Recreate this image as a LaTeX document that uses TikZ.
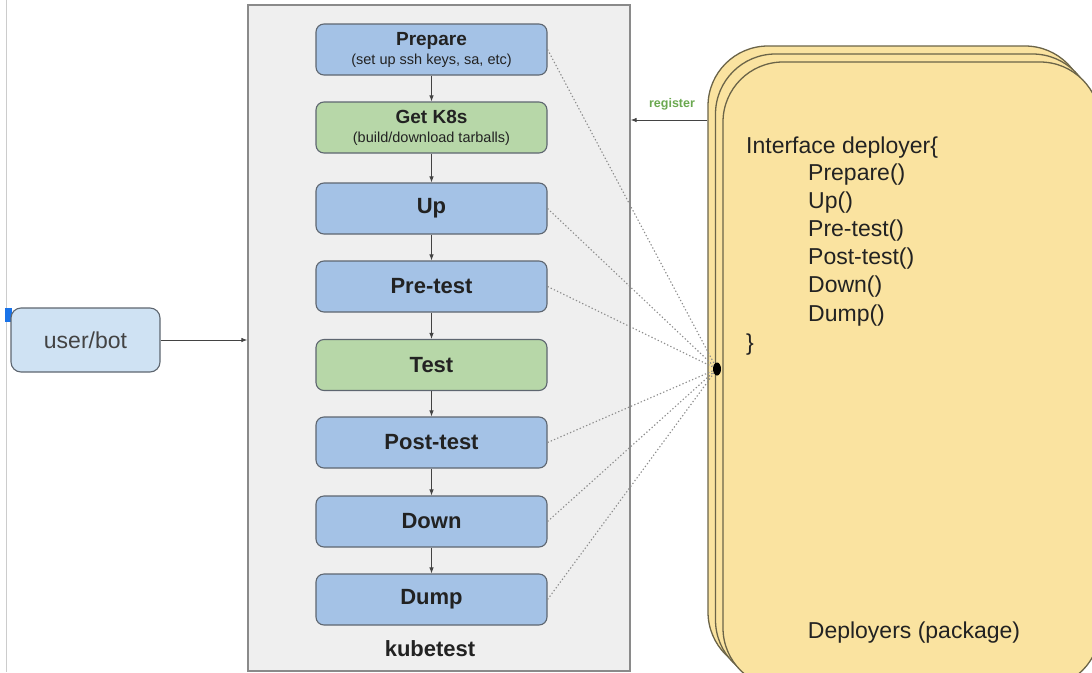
\documentclass[tikz,border=0pt]{standalone}
\usepackage{fontspec}
\setmainfont{Liberation Sans}
\usetikzlibrary{arrows.meta,shapes.geometric}
\definecolor{stepblue}{HTML}{A4C2E6}
\definecolor{stepgreen}{HTML}{B7D7A8}
\definecolor{userblue}{HTML}{CFE2F3}
\definecolor{boxline}{HTML}{5E6670}
\definecolor{contfill}{HTML}{EFEFEF}
\definecolor{contline}{HTML}{8A8A8A}
\definecolor{depfill}{HTML}{FAE3A0}
\definecolor{depline}{HTML}{6B6448}
\definecolor{textdark}{HTML}{222222}
\definecolor{regreen}{HTML}{6AA84F}
\definecolor{markblue}{HTML}{1A73E8}
\begin{document}
\begin{tikzpicture}[x=1pt,y=-1pt,
  stepbox/.style={draw=boxline, line width=1.1pt, rounded corners=8pt, minimum width=231pt, minimum height=51pt, fill=stepblue, align=center, text=textdark, font=\fontsize{22}{24}\selectfont\bfseries, inner sep=0pt},
  greenbox/.style={stepbox, fill=stepgreen},
  flow/.style={draw=textdark!85, line width=0.9pt, -{Latex[length=6pt,width=4.5pt]}},
  depbox/.style={draw=depline, line width=1.3pt, fill=depfill, rounded corners=60pt, minimum width=377pt, minimum height=626pt, inner sep=0pt},
  deptext/.style={anchor=base west, text=textdark, font=\fontsize{23}{26}\selectfont, inner sep=0pt},
  dots/.style={draw=black!45, line width=1.1pt, dash pattern=on 1.3pt off 2.2pt}
]
\useasboundingbox (0,0) rectangle (1092,672);
% left guide line and marker
\draw[draw=black!20, line width=1.2pt] (6.5,0) -- (6.5,672);
\fill[markblue] (5,308) rectangle (12,322);

% container
\node[draw=contline, line width=1.2pt, fill=contfill, minimum width=382pt, minimum height=666pt, inner sep=0pt] (kube) at (439,338) {};
\node[font=\fontsize{22}{24}\selectfont\bfseries, text=textdark] (kubelabel) at (430,649) {kubetest};

% user/bot
\node[draw=boxline, line width=1.1pt, fill=userblue, rounded corners=10pt, minimum width=149pt, minimum height=64pt, font=\fontsize{23}{26}\selectfont, text=textdark!85] (user) at (85.5,340) {user/bot};
\draw[flow] (user.east) -- (kube.west |- user.east);

% steps
\node[stepbox] (prep) at (431.5,49.5) {\fontsize{19}{20}\selectfont Prepare\\[-5pt]{\fontsize{14.5}{16}\selectfont\mdseries (set up ssh keys, sa, etc)}};
\node[greenbox] (getk) at (431.5,127.5) {\fontsize{19}{20}\selectfont Get K8s\\[-5pt]{\fontsize{14.5}{16}\selectfont\mdseries (build/download tarballs)}};
\node[stepbox] (up) at (431.5,208.5) {Up};
\node[stepbox] (pre) at (431.5,286.5) {Pre-test};
\node[greenbox] (test) at (431.5,365) {Test};
\node[stepbox] (post) at (431.5,442.5) {Post-test};
\node[stepbox] (down) at (431.5,521.5) {Down};
\node[stepbox] (dump) at (431.5,599.5) {Dump};
\draw[flow] (prep) -- (getk);
\draw[flow] (getk) -- (up);
\draw[flow] (up) -- (pre);
\draw[flow] (pre) -- (test);
\draw[flow] (test) -- (post);
\draw[flow] (post) -- (down);
\draw[flow] (down) -- (dump);

% deployers stack
\begin{scope}
\clip (0,0) rectangle (1092,672);
\node[depbox] (depback) at (896.5,359) {};
\node[depbox] (depmid) at (904,367) {};
\node[depbox] (depfront) at (911.5,375) {};
\end{scope}

\node[deptext] (if0) at (746,153) {Interface deployer\{};
\node[deptext] (if1) at (808,180.5) {Prepare()};
\node[deptext] (if2) at (808,208.5) {Up()};
\node[deptext] (if3) at (808,236.5) {Pre-test()};
\node[deptext] (if4) at (808,264.5) {Post-test()};
\node[deptext] (if5) at (808,292.5) {Down()};
\node[deptext] (if6) at (808,321) {Dump()};
\node[deptext] (if7) at (746,350) {\}};
\node[text=textdark, font=\fontsize{23}{26}\selectfont] (deplabel) at (914,633) {Deployers (package)};

% register arrow
\coordinate (regy) at (0,120);
\draw[flow] (depback.west |- regy) -- (kube.east |- regy);
\node[text=regreen, font=\fontsize{12.5}{14}\selectfont\bfseries] (reglabel) at (672,104) {register};

% hub and dotted links
\node[fill=black, ellipse, minimum width=8pt, minimum height=13pt, inner sep=0pt] (hub) at (717,369) {};
\foreach \n in {prep,up,pre,post,down,dump}
  \draw[dots] (\n.east) -- (hub);
\end{tikzpicture}
\end{document}
